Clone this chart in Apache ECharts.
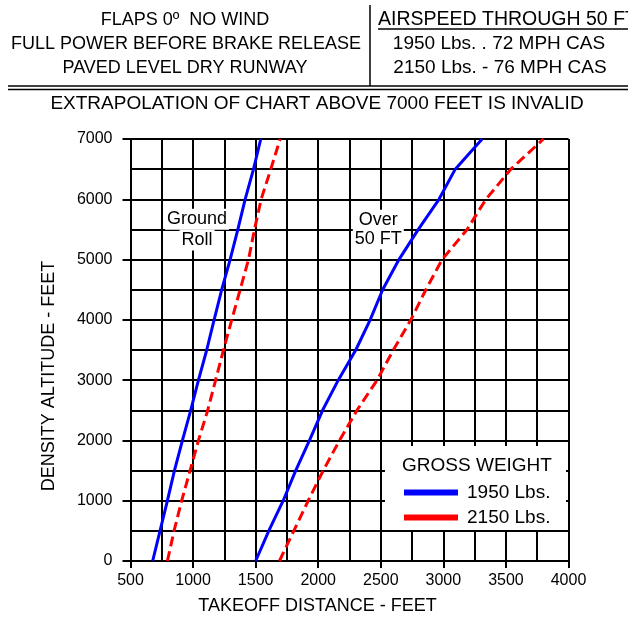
<!DOCTYPE html>
<html>
<head>
<meta charset="utf-8">
<script src="https://cdn.jsdelivr.net/npm/echarts@6/dist/echarts.min.js"></script>
<style>
  html, body { margin: 0; padding: 0; background: #fff; }
  #chart { width: 628px; height: 620px; }
</style>
</head>
<body>
<div id="chart"></div>
<script>
// Density altitude (ft) at which each takeoff distance is read
const altitudes = [0, 500, 1000, 1500, 2000, 2500, 3000, 3500, 4000, 4500, 5000, 5500, 6000, 6500, 7000];

// Ground roll distance (ft)
const groundRoll1950 = [677, 736, 795, 851, 915, 981, 1043, 1109, 1168, 1229, 1296, 1358, 1416, 1483, 1541];
const groundRoll2150 = [795, 848, 909, 976, 1043, 1117, 1180, 1243, 1309, 1376, 1443, 1491, 1544, 1621, 1696];

// Total distance over a 50 ft obstacle (ft)
const over50ft1950 = [1500, 1605, 1720, 1820, 1930, 2035, 2160, 2300, 2415, 2515, 2645, 2800, 2965, 3095, 3310];
const over50ft2150 = [1690, 1805, 1920, 2040, 2170, 2310, 2470, 2600, 2740, 2860, 2990, 3190, 3340, 3540, 3800];

const weightNames = ['1950 Lbs.', '2150 Lbs.'];
const xTitle = 'TAKEOFF DISTANCE - FEET';
const yTitle = 'DENSITY ALTITUDE - FEET';

const FONT = '"Liberation Sans", Arial, sans-serif';
const BLUE = '#0000ff';
const RED = '#ff0000';

function pairs(dist) {
  return dist.map((d, i) => [d, altitudes[i]]);
}

const chart = echarts.init(document.getElementById('chart'), null, { renderer: 'canvas' });

const gridLine = { show: true, lineStyle: { color: '#000', width: 2 } };
const plain = (v) => String(v);

function curve(name, dist, color, dashed) {
  return {
    type: 'line',
    name: name,
    data: pairs(dist),
    symbol: 'none',
    smooth: false,
    z: 3,
    itemStyle: { color: color },
    lineStyle: { color: color, width: 3, type: dashed ? [10, 5] : 'solid' }
  };
}

chart.setOption({
  backgroundColor: '#fff',
  animation: false,
  textStyle: { fontFamily: FONT },
  grid: { left: 130.5, right: 59.5, top: 139, bottom: 55 },
  xAxis: {
    type: 'value',
    min: 500, max: 4000, interval: 500,
    name: xTitle,
    nameLocation: 'middle',
    nameGap: 36,
    nameTextStyle: { color: '#000', fontSize: 18, fontFamily: FONT, padding: [0, 64, 0, 0] },
    axisLine: { show: true, onZero: false, lineStyle: { color: '#000', width: 2 } },
    axisTick: { show: true, inside: false, length: 7, lineStyle: { color: '#000', width: 2 } },
    axisLabel: { color: '#000', fontSize: 16, fontFamily: FONT, margin: 12, formatter: plain },
    splitLine: gridLine,
    minorTick: { show: false, splitNumber: 2 },
    minorSplitLine: gridLine
  },
  yAxis: {
    type: 'value',
    min: 0, max: 7000, interval: 1000,
    name: yTitle,
    nameLocation: 'middle',
    nameRotate: 90,
    nameGap: 72,
    nameTextStyle: { color: '#000', fontSize: 18, fontFamily: FONT, padding: [0, 52, 0, 0] },
    axisLine: { show: true, onZero: false, lineStyle: { color: '#000', width: 2 } },
    axisTick: { show: true, inside: false, length: 8, lineStyle: { color: '#000', width: 2 } },
    axisLabel: { color: '#000', fontSize: 16, fontFamily: FONT, margin: 18, formatter: plain },
    splitLine: gridLine,
    minorTick: { show: false, splitNumber: 2 },
    minorSplitLine: gridLine
  },
  legend: {
    data: weightNames,
    orient: 'vertical',
    left: 399,
    top: 478,
    z: 6,
    icon: 'rect',
    itemWidth: 54,
    itemHeight: 6,
    itemGap: 6,
    selectedMode: false,
    textStyle: { color: '#000', fontSize: 19, fontFamily: FONT, padding: [0, 0, 0, 4] },
    itemStyle: { borderWidth: 0 },
    lineStyle: { type: 'solid' }
  },
  series: [
    curve(weightNames[0], groundRoll1950, BLUE, false),
    curve(weightNames[1], groundRoll2150, RED, true),
    curve(weightNames[0], over50ft1950, BLUE, false),
    curve(weightNames[1], over50ft2150, RED, true)
  ]
});

// Annotations placed in data space, converted to pixels through the axes
function at(dist, alt) {
  return chart.convertToPixel({ gridIndex: 0 }, [dist, alt]);
}

function boxedText(text, dist, alt) {
  const p = at(dist, alt);
  return {
    type: 'text', z: 1, x: p[0], y: p[1],
    style: {
      text: text, font: '18px ' + FONT, fill: '#000',
      align: 'center', verticalAlign: 'middle',
      backgroundColor: '#fff', padding: [2, 2, 1, 2]
    }
  };
}

function headerText(text, x, y, align, size) {
  return {
    type: 'text', x: x, y: y,
    style: {
      text: text, font: (size || 18) + 'px ' + FONT, fill: '#000',
      align: align || 'center', verticalAlign: 'middle'
    }
  };
}

const line = (x1, y1, x2, y2) => ({
  type: 'line', shape: { x1: x1, y1: y1, x2: x2, y2: y2 },
  style: { stroke: '#000', lineWidth: 1.5 }
});

chart.setOption({
  graphic: [
    // Conditions block
    headerText('FLAPS 0º  NO WIND', 185, 20),
    headerText('FULL POWER BEFORE BRAKE RELEASE', 186, 44),
    headerText('PAVED LEVEL DRY RUNWAY', 185, 68),
    line(370, 5, 370, 86),
    headerText('AIRSPEED THROUGH 50 FT', 378, 20, 'left', 19.5),
    line(378, 29, 628, 29),
    headerText('1950 Lbs. . 72 MPH CAS', 499, 44, 'center', 19),
    headerText('2150 Lbs. - 76 MPH CAS', 500, 68, 'center', 19),
    line(8, 86, 628, 86),
    line(8, 89.5, 628, 89.5),
    headerText('EXTRAPOLATION OF CHART ABOVE 7000 FEET IS INVALID', 317, 104, 'center', 19),
    // Curve family labels
    boxedText('Ground', 1032, 5669),
    boxedText('Roll', 1032, 5324),
    boxedText('Over', 2480, 5652),
    boxedText('50 FT', 2480, 5340),
    // Legend panel
    {
      type: 'rect', z: 1,
      shape: { x: 385, y: 446, width: 181, height: 84 },
      style: { fill: '#fff' }
    },
    {
      type: 'text', z: 2, x: 477, y: 466,
      style: { text: 'GROSS WEIGHT', font: '19px ' + FONT, fill: '#000', align: 'center', verticalAlign: 'middle' }
    }
  ]
});
</script>
</body>
</html>
